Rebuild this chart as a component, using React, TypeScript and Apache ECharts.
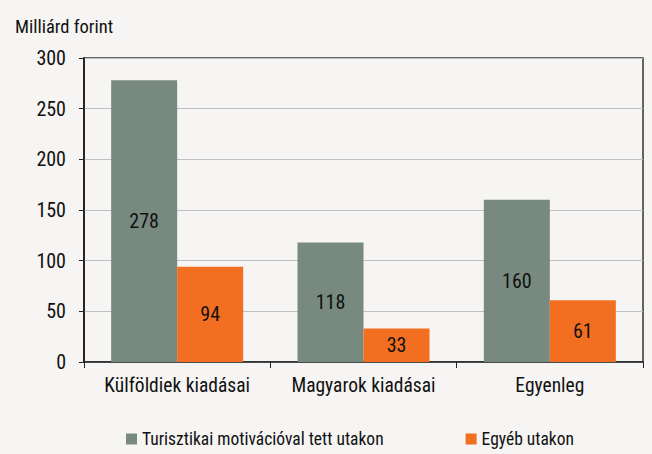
import React, { useEffect, useRef } from "react";
import * as echarts from "echarts";

const categories = ["Külföldiek kiadásai", "Magyarok kiadásai", "Egyenleg"];
const tourismValues = [278, 118, 160];
const otherValues = [94, 33, 61];
const seriesNames = ["Turisztikai motivációval tett utakon", "Egyéb utakon"];
const yUnit = "Milliárd forint";

const FONT = "'Roboto Condensed', 'Liberation Sans', sans-serif";

export default function App() {
  const ref = useRef<HTMLDivElement>(null);
  useEffect(() => {
    const chart = echarts.init(ref.current!, null, { renderer: "svg" });
    const label = {
      show: true,
      position: "inside",
      color: "#111",
      fontSize: 20,
      fontFamily: FONT,
    };
    chart.setOption({
      animation: false,
      backgroundColor: "#F6F5F3",
      textStyle: { fontFamily: FONT },
      title: {
        text: yUnit,
        left: 10,
        top: 12,
        textStyle: { fontSize: 18.5, fontWeight: "normal", color: "#111", fontFamily: FONT },
      },
      grid: {
        left: 84,
        right: 9,
        top: 58,
        bottom: 92,
        show: true,
        borderColor: "#333",
        borderWidth: 1.5,
        backgroundColor: "transparent",
      },
      legend: {
        bottom: 1,
        left: 121,
        itemWidth: 11,
        itemHeight: 11,
        itemGap: 82,
        itemStyle: { borderWidth: 0 },
        icon: "rect",
        textStyle: { fontSize: 17.5, color: "#111", fontFamily: FONT },
        data: seriesNames,
      },
      xAxis: {
        type: "category",
        data: categories,
        axisLine: { lineStyle: { color: "#222", width: 1.5 } },
        axisTick: { show: true, length: 6, lineStyle: { color: "#222" } },
        axisLabel: { interval: 0, fontSize: 19.5, color: "#111", margin: 13, fontFamily: FONT },
      },
      yAxis: {
        type: "value",
        min: 0,
        max: 300,
        interval: 50,
        axisLine: { show: true, lineStyle: { color: "#111", width: 1.5 } },
        axisTick: { show: true, length: 5, lineStyle: { color: "#222" } },
        axisLabel: { fontSize: 20, color: "#111", margin: 18, fontFamily: FONT },
        splitLine: { lineStyle: { color: "#BCC0C4", width: 1 } },
      },
      series: [
        {
          name: seriesNames[0],
          type: "bar",
          data: tourismValues,
          barWidth: 66,
          barGap: "0%",
          itemStyle: { color: "#788A80" },
          label,
        },
        {
          name: seriesNames[1],
          type: "bar",
          data: otherValues,
          barWidth: 66,
          itemStyle: { color: "#F26F22" },
          label,
        },
      ],
    });
    return () => chart.dispose();
  }, []);
  return (
    <div
      ref={ref}
      style={{ position: "fixed", left: 0, top: 0, width: 652, height: 454 }}
    />
  );
}
